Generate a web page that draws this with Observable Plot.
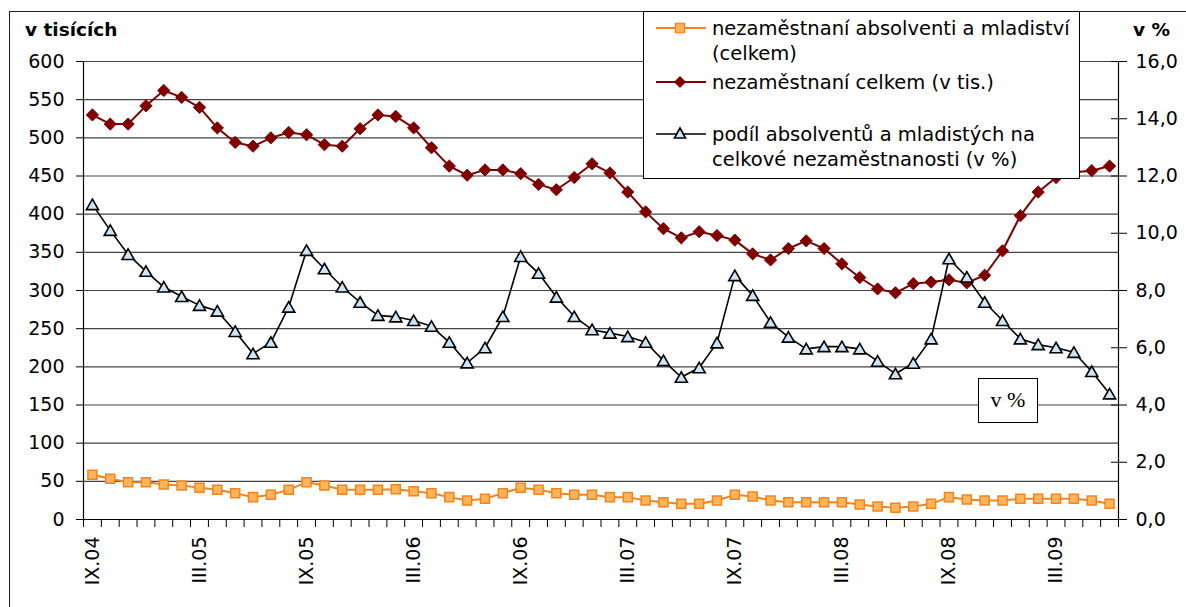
<!DOCTYPE html>
<html><head><meta charset="utf-8">
<script src="https://cdn.jsdelivr.net/npm/d3@7"></script>
<script src="https://cdn.jsdelivr.net/npm/@observablehq/plot@0.6"></script>
<style>
body{margin:0;background:#fff;}
#wrap{position:relative;width:1186px;height:607px;overflow:hidden;background:#fff;font-family:"DejaVu Sans",sans-serif;}
#frame{position:absolute;left:9px;top:11px;width:1300px;height:700px;border-left:1px solid #222;border-top:1px solid #222;}
#chart{position:absolute;left:0;top:0;}
.ttl{position:absolute;font-weight:bold;font-size:18.5px;color:#000;white-space:nowrap;}
#legend{position:absolute;left:643px;top:11px;width:437px;height:168px;box-sizing:border-box;border:1px solid #000;background:#fff;}
#vbox{position:absolute;left:978px;top:378px;width:60px;height:45px;box-sizing:border-box;border:1.5px solid #000;background:#fff;font-family:"Liberation Serif","DejaVu Serif",serif;font-size:22px;text-align:center;line-height:42px;}
</style></head><body>
<div id="wrap">
  <div id="frame"></div>
  <div id="chart"></div>
  <div class="ttl" style="left:25px;top:19px">v tisících</div>
  <div class="ttl" style="left:1133px;top:19px">v %</div>
  <div id="legend"></div>
  <div id="vbox">v %</div>
</div>
<script>
// categories (months)
const months = ["IX.04","X.04","XI.04","XII.04",
 "I.05","II.05","III.05","IV.05","V.05","VI.05","VII.05","VIII.05","IX.05","X.05","XI.05","XII.05",
 "I.06","II.06","III.06","IV.06","V.06","VI.06","VII.06","VIII.06","IX.06","X.06","XI.06","XII.06",
 "I.07","II.07","III.07","IV.07","V.07","VI.07","VII.07","VIII.07","IX.07","X.07","XI.07","XII.07",
 "I.08","II.08","III.08","IV.08","V.08","VI.08","VII.08","VIII.08","IX.08","X.08","XI.08","XII.08",
 "I.09","II.09","III.09","IV.09","V.09","VI.09"];
// labelled categories
const labelMonths = ["IX.04","III.05","IX.05","III.06","IX.06","III.07","IX.07","III.08","IX.08","III.09"];
// nezaměstnaní absolventi a mladiství (celkem), v tis.
const graduates = [58.5,53.3,48.9,48.9,45.9,44.5,41.5,38.9,34.5,29.3,
 32.3,38.9,48.9,44.5,38.9,38.9,38.9,39.5,37.1,34.5,
 29.3,24.9,27.1,34.5,41.5,38.9,34.5,32.3,32.3,29.3,
 29.3,24.9,22.7,20.5,20.5,24.9,32.3,30.1,24.9,22.7,
 22.7,22.7,22.7,19.7,17.0,15.3,17.0,20.5,29.3,26.2,
 24.9,24.9,27.1,27.1,27.1,27.1,24.9,20.5];
// nezaměstnaní celkem, v tis.
const total = [530,518,518,542,562,553,540,513,494,489,
 500,507,504,491,489,512,530,528,513,487,
 463,451,458,458,453,439,432,448,466,454,
 429,403,381,369,377,372,366,348,340,355,
 365,355,335,317,302,297,309,311,314,310,
 320,352,398,429,448,455,457,463];
// podíl absolventů a mladistých na celkové nezaměstnanosti, v %
const share = [11.0,10.1,9.26,8.67,8.12,7.79,7.48,7.28,6.57,5.79,
 6.19,7.42,9.40,8.76,8.12,7.59,7.13,7.08,6.95,6.75,
 6.19,5.47,6.00,7.09,9.19,8.60,7.77,7.09,6.63,6.51,
 6.39,6.19,5.55,4.97,5.30,6.17,8.52,7.83,6.89,6.37,
 5.96,6.04,6.04,5.96,5.53,5.09,5.46,6.31,9.11,8.47,
 7.59,6.95,6.31,6.11,6.00,5.84,5.17,4.39];
// axis ticks
const leftTicks = [0,50,100,150,200,250,300,350,400,450,500,550,600];
const rightTicks = [0,2,4,6,8,10,12,14,16];
const seriesNames = ["nezaměstnaní absolventi a mladiství", "(celkem)", "nezaměstnaní celkem (v tis.)",
  "podíl absolventů a mladistých na", "celkové nezaměstnanosti (v %)"];

const colOrange = "#F5841F", fillOrange = "#FDB55C", colRed = "#800000", fillBlue = "#CCE5F6";
const K = 600 / 16; // secondary axis mapping
const rows = months.map((m, i) => ({i, m, grads: graduates[i], total: total[i], sharePos: share[i] * K}));
const boundaries = months.map((m, i) => i - 0.5).concat([months.length - 0.5]);
const labelIdx = labelMonths.map(l => months.indexOf(l));
const font = "'DejaVu Sans', sans-serif";

const plot = Plot.plot({
  width: 1186, height: 607,
  marginLeft: 83, marginRight: 68, marginTop: 61, marginBottom: 88,
  style: {fontFamily: font, fontSize: "19px", color: "#000", background: "transparent", overflow: "visible"},
  x: {domain: [-0.5, months.length - 0.5]},
  y: {domain: [0, 600]},
  marks: [
    Plot.ruleY(leftTicks.filter(d => d > 0), {stroke: "#444", strokeWidth: 1.1}),
    Plot.axisY(leftTicks, {anchor: "left", tickSize: 7, tickPadding: 12, label: null, tickFormat: d => String(d), stroke: "#000"}),
    Plot.axisY(rightTicks.map(v => v * K), {anchor: "right", tickSize: 8, tickPadding: 9, label: null,
      tickFormat: d => (d / K).toFixed(1).replace(".", ","), stroke: "#000"}),
    Plot.axisY(rightTicks.map(v => v * K), {anchor: "right", tickSize: -8, label: null, tickFormat: () => "", stroke: "#000"}),
    Plot.axisX(boundaries, {anchor: "bottom", tickSize: 8, label: null, tickFormat: () => "", stroke: "#000"}),
    Plot.axisX(labelIdx, {anchor: "bottom", tickSize: 0, tickPadding: 17, tickRotate: -90, label: null,
      tickFormat: i => months[i], fontFamily: font, fontSize: 19}),
    Plot.ruleX([-0.5], {stroke: "#000", strokeWidth: 1.2}),
    Plot.ruleX([months.length - 0.5], {stroke: "#000", strokeWidth: 1.2}),
    Plot.ruleY([0], {stroke: "#000", strokeWidth: 1.2}),
    Plot.line(rows, {x: "i", y: "grads", stroke: colOrange, strokeWidth: 2}),
    Plot.dot(rows, {x: "i", y: "grads", symbol: "square", r: 5.1, fill: fillOrange, stroke: colOrange, strokeWidth: 1.5}),
    Plot.line(rows, {x: "i", y: "total", stroke: colRed, strokeWidth: 2}),
    Plot.dot(rows, {x: "i", y: "total", symbol: "diamond2", r: 5.5, fill: colRed, stroke: colRed, strokeWidth: 1}),
    Plot.line(rows, {x: "i", y: "sharePos", stroke: "#000", strokeWidth: 1.6}),
    Plot.dot(rows, {x: "i", y: "sharePos", symbol: "triangle", r: 4.5, dy: 1.5, fill: fillBlue, stroke: "#000", strokeWidth: 1.6})
  ]
});
document.getElementById("chart").appendChild(plot);

// legend
const lg = d3.select("#legend").append("svg").attr("width", 435).attr("height", 166)
  .style("font-family", font).style("font-size", "19.5px");
function swatch(y, color, width, shape) {
  lg.append("line").attr("x1", 12).attr("x2", 62).attr("y1", y).attr("y2", y).attr("stroke", color).attr("stroke-width", width);
  shape(y);
}
swatch(16, colOrange, 2, y => lg.append("rect").attr("x", 31.5).attr("y", y - 4.5).attr("width", 9).attr("height", 9)
  .attr("fill", fillOrange).attr("stroke", colOrange).attr("stroke-width", 1.5));
swatch(70, colRed, 2, y => lg.append("path").attr("d", `M36,${y-6}L42,${y}L36,${y+6}L30,${y}Z`).attr("fill", colRed));
swatch(122, "#000", 1.6, y => lg.append("path").attr("d", `M36,${y-6}L41.5,${y+4}L30.5,${y+4}Z`)
  .attr("fill", fillBlue).attr("stroke", "#000").attr("stroke-width", 1.6));
const ys = [23, 48, 77, 129, 154];
seriesNames.forEach((t, k) => lg.append("text").attr("x", 68).attr("y", ys[k]).text(t));
</script>
</body></html>
